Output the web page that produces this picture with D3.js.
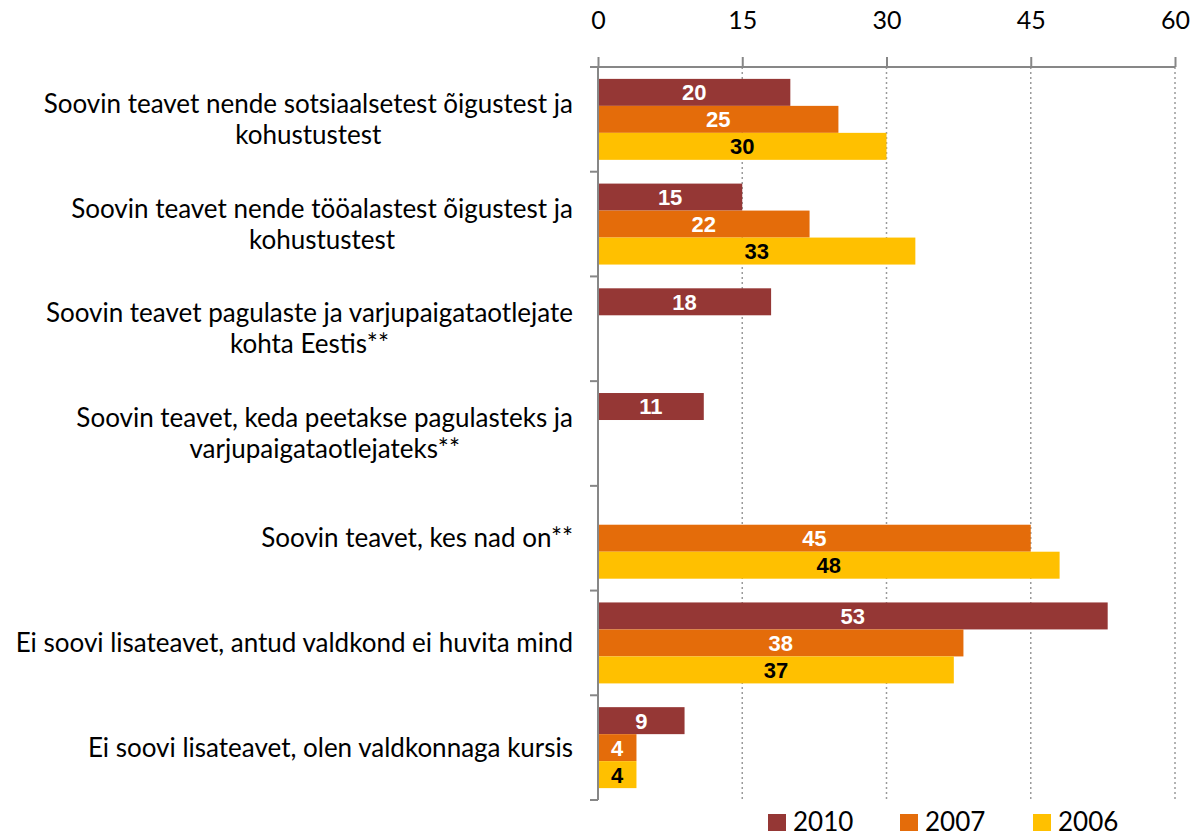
<!DOCTYPE html>
<html>
<head>
<meta charset="utf-8">
<script src="https://cdn.jsdelivr.net/npm/d3@7"></script>
<style>
  body { margin: 0; background: #fff; }
  svg { display: block; }
  .cat { font-family: Lato, sans-serif; font-size: 26px; fill: #000; }
  .val { font-family: "Liberation Sans", Arial, sans-serif; font-size: 22px; font-weight: bold; }
  .axis--x text { font-family: Lato, sans-serif; font-size: 25px; fill: #000; }
  .legend text { font-family: Lato, sans-serif; font-size: 26px; fill: #000; }
</style>
</head>
<body>
<svg id="chart" width="1202" height="836"></svg>
<script>
const categories = [
  ["Soovin teavet nende sotsiaalsetest õigustest ja", "kohustustest"],
  ["Soovin teavet nende tööalastest õigustest ja", "kohustustest"],
  ["Soovin teavet pagulaste ja varjupaigataotlejate", "kohta Eestis**"],
  ["Soovin teavet, keda peetakse pagulasteks ja", "varjupaigataotlejateks**"],
  ["Soovin teavet, kes nad on**"],
  ["Ei soovi lisateavet, antud valdkond ei huvita mind"],
  ["Ei soovi lisateavet, olen valdkonnaga kursis"]
];
const seriesNames = ["2010", "2007", "2006"];
const values2010 = [20, 15, 18, 11, null, 53, 9];
const values2007 = [25, 22, null, null, 45, 38, 4];
const values2006 = [30, 33, null, null, 48, 37, 4];
const xTicks = [0, 15, 30, 45, 60];

const colours = { "2010": "#953735", "2007": "#E46C0A", "2006": "#FFC000" };
const labelColours = { "2010": "#fff", "2007": "#fff", "2006": "#000" };

const MARGIN = { top: 67, bottom: 36, left: 598, right: 27 };
const W = 1202, H = 836;
const LABEL_RIGHT = 573;

const $svg = d3.select('#chart');

const x = d3.scaleLinear().domain([0, 60]).range([MARGIN.left, W - MARGIN.right]);
const catIdx = d3.range(categories.length);
const y = d3.scaleBand().domain(catIdx).range([MARGIN.top, H - MARGIN.bottom]).padding(0);
const ySeries = d3.scaleBand().domain(seriesNames).range([0, y.bandwidth()]).paddingInner(0).paddingOuter(0.44);

const seriesData = { "2010": values2010, "2007": values2007, "2006": values2006 };

// gridlines (dotted)
$svg.append('g')
  .selectAll('line')
  .data(xTicks.slice(1))
  .join('line')
  .attr('x1', d => x(d)).attr('x2', d => x(d))
  .attr('y1', MARGIN.top).attr('y2', H - MARGIN.bottom)
  .style('stroke', '#9a9a9a')
  .style('stroke-width', 1.5)
  .style('stroke-dasharray', '2,3');

// bars
const bars = [];
seriesNames.forEach(s => {
  seriesData[s].forEach((v, i) => {
    if (v != null) bars.push({ s, i, v });
  });
});

const $bars = $svg.append('g');
$bars.selectAll('rect')
  .data(bars)
  .join('rect')
  .attr('x', x(0) + 1)
  .attr('y', d => y(d.i) + ySeries(d.s))
  .attr('width', d => x(d.v) - x(0) - 1)
  .attr('height', ySeries.bandwidth())
  .attr('fill', d => colours[d.s]);

$bars.selectAll('text')
  .data(bars)
  .join('text')
  .attr('class', 'val')
  .attr('x', d => (x(0) + x(d.v)) / 2)
  .attr('y', d => y(d.i) + ySeries(d.s) + ySeries.bandwidth() / 2)
  .attr('dy', '0.36em')
  .attr('text-anchor', 'middle')
  .style('fill', d => labelColours[d.s])
  .text(d => d.v);

// top axis
const axisX = d3.axisTop(x)
  .tickValues(xTicks)
  .tickSize(10)
  .tickPadding(28)
  .tickSizeOuter(0);

const $gx = $svg.append('g')
  .attr('class', 'axis--x')
  .attr('transform', `translate(0,${MARGIN.top})`)
  .call(axisX);
$gx.select('.domain').remove();
$gx.selectAll('.tick line').style('stroke', '#878787').style('stroke-width', 2);
$svg.append('line')
  .attr('x1', MARGIN.left - 8).attr('x2', W - MARGIN.right)
  .attr('y1', MARGIN.top).attr('y2', MARGIN.top)
  .style('stroke', '#878787').style('stroke-width', 2);

// left axis with ticks at category boundaries
const edges = catIdx.map(i => y(i)).concat([y.range()[1]]);
$svg.append('line')
  .attr('x1', MARGIN.left).attr('x2', MARGIN.left)
  .attr('y1', MARGIN.top).attr('y2', H - MARGIN.bottom)
  .style('stroke', '#878787').style('stroke-width', 2);
$svg.append('g')
  .selectAll('line')
  .data(edges)
  .join('line')
  .attr('x1', MARGIN.left - 8).attr('x2', MARGIN.left)
  .attr('y1', d => d).attr('y2', d => d)
  .style('stroke', '#878787').style('stroke-width', 2);

// category labels: lines centred on each other, block right-aligned
const LINE_H = 31;
const $cats = $svg.append('g');
categories.forEach((lines, i) => {
  const $t = $cats.append('text').attr('class', 'cat').attr('text-anchor', 'middle');
  const cy = y(i) + y.bandwidth() / 2;
  lines.forEach((ln, k) => {
    $t.append('tspan')
      .attr('y', cy + (k - (lines.length - 1) / 2) * LINE_H)
      .attr('dy', '0.35em')
      .text(ln);
  });
  let maxW = 0;
  $t.selectAll('tspan').each(function () {
    maxW = Math.max(maxW, this.getComputedTextLength());
  });
  $t.selectAll('tspan').attr('x', LABEL_RIGHT - maxW / 2);
});

// legend
const legendX = [768, 900, 1033];
const $legend = $svg.append('g').attr('class', 'legend');
seriesNames.forEach((s, k) => {
  $legend.append('rect')
    .attr('x', legendX[k]).attr('y', 814)
    .attr('width', 18).attr('height', 17)
    .attr('fill', colours[s]);
  $legend.append('text')
    .attr('x', legendX[k] + 25).attr('y', 831)
    .text(s);
});
</script>
</body>
</html>
